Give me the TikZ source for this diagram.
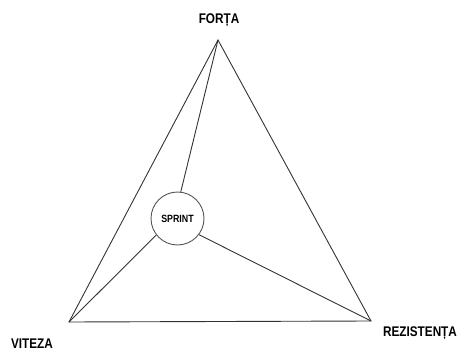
\documentclass[tikz,border=0pt]{standalone}
\usepackage{fontspec}
\setmainfont{Liberation Sans}
\newfontfamily\lblfont[FakeStretch=0.84]{Liberation Sans}
\usetikzlibrary{calc}
\definecolor{edgegray}{HTML}{333333}
\definecolor{ringgray}{HTML}{555555}

\begin{document}
\begin{tikzpicture}[x=1pt,y=-1pt,
 lbl/.style={inner sep=0pt,font=\lblfont\bfseries\fontsize{14}{16}\selectfont,text=black},
 hub/.style={circle,draw=ringgray,line width=0.9pt,fill=white,minimum size=53pt,inner sep=0pt,font=\lblfont\bfseries\fontsize{10.5}{12}\selectfont},
 l/.style={line width=0.9pt,edgegray}]
\useasboundingbox (0,0) rectangle (469,353);
\coordinate (top) at (218,40);
\coordinate (bl) at (69,322);
\coordinate (br) at (371,321);
\node[hub] (sprint) at (177.5,218.5) {SPRINT};
\draw[l] (top)--(bl)--(br)--cycle;
\draw[l] (top)--(sprint.83); \draw[l] (bl)--(sprint.218); \draw[l] (br)--(sprint.323);

\node[lbl] (forta) at (219,20) {FORȚA};
\node[lbl] (viteza) at (32,344) {VITEZA};
\node[lbl] (rez) at (420,333) {REZISTENȚA};
\end{tikzpicture}
\end{document}
